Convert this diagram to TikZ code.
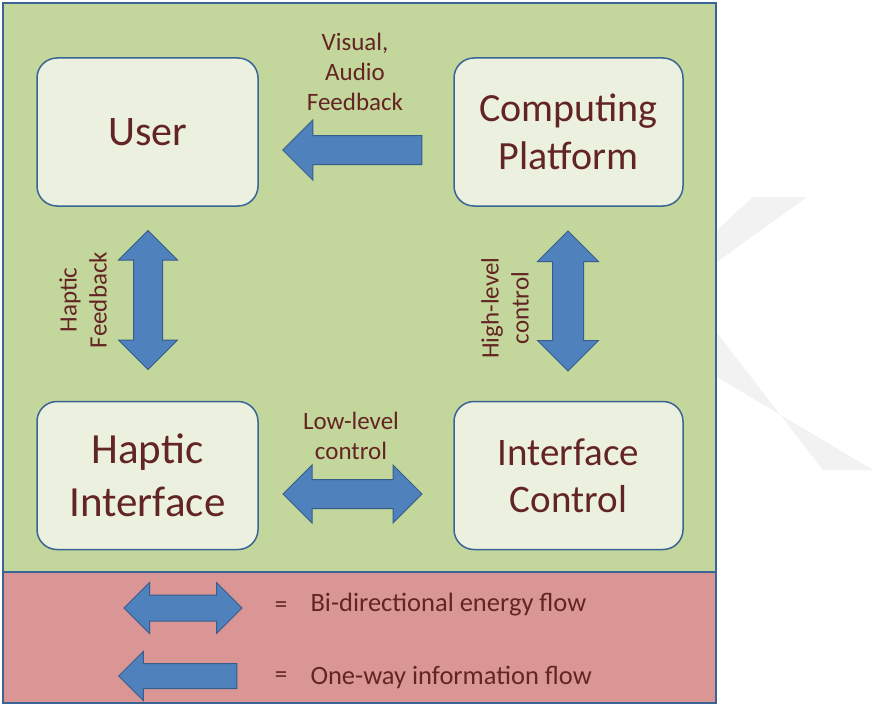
\documentclass[tikz,border=0pt]{standalone}
\usepackage{fontspec}
\setmainfont{Carlito}
\usetikzlibrary{shapes.arrows}
\definecolor{bggreen}{HTML}{C3D69B}
\definecolor{bgred}{HTML}{D99694}
\definecolor{boxfill}{HTML}{EBF1DE}
\definecolor{frameline}{HTML}{3B6496}
\definecolor{arrowfill}{HTML}{4F81BD}
\definecolor{arrowline}{HTML}{385D8A}
\definecolor{txt}{HTML}{632523}
\definecolor{wmark}{HTML}{F2F2F2}
\tikzset{
	block/.style={draw=frameline, fill=boxfill, line width=1.5pt, rounded corners=20pt,
		minimum width=221pt, minimum height=148pt, text=txt, align=center},
	oneway/.style={single arrow, draw=arrowline, fill=arrowfill, line width=1pt, inner xsep=0pt},
	twoway/.style={double arrow, draw=arrowline, fill=arrowfill, line width=1pt, inner xsep=0pt},
	lbl/.style={text=txt, align=center, font=\fontsize{25}{30}\selectfont},
	keylbl/.style={text=txt, anchor=west, font=\fontsize{26.5}{30}\selectfont}
}
\begin{document}
\begin{tikzpicture}[x=1pt, y=-1pt]
		\useasboundingbox (0,0) rectangle (874,706);
		% watermark
		\fill[wmark] (717,230) -- (753,197) -- (807,197) -- (717,262) -- cycle;
		\fill[wmark] (717,333) -- (823,470) -- (873,470) -- (717,377) -- cycle;
		% background
		\fill[bggreen] (3,3) rectangle (716,572);
		\fill[bgred] (3,572) rectangle (716,703);
		\draw[frameline, line width=2pt] (3,3) rectangle (716,703);
		\draw[frameline, line width=2pt] (3,572) -- (716,572);
		% blocks
		\node[block, font=\fontsize{42}{50}\selectfont] (user) at (147.5,132) {User};
		\node[block, minimum width=229pt, font=\fontsize{40}{48}\selectfont] (platform) at (568.5,132) {Computing\\Platform};
		\node[block, font=\fontsize{43}{53}\selectfont] (haptic) at (147.5,475.5) {Haptic\\Interface};
		\node[block, minimum width=229pt, font=\fontsize{39}{47}\selectfont] (ictrl) at (568.5,475.5) {Interface\\Control};
		% flows
		\node[oneway, rotate=180, minimum height=139pt, inner ysep=14pt, single arrow head extend=15.5pt] (av) at (359.5,150) {};
		\node[twoway, rotate=90, minimum height=139pt, inner ysep=14pt, double arrow head extend=15pt] (hf) at (148,300) {};
		\node[twoway, rotate=90, minimum height=140pt, inner ysep=15pt, double arrow head extend=15pt] (hl) at (568,301) {};
		\node[twoway, minimum height=139pt, inner ysep=14pt, double arrow head extend=14.5pt] (ll) at (352.5,494) {};
		\node[lbl] (avtext) at (355,72) {Visual,\\Audio\\Feedback};
		\node[lbl, rotate=90] (hftext) at (83,300) {Haptic\\Feedback};
		\node[lbl, rotate=90] (hltext) at (505,308) {High-level\\control};
		\node[lbl] (lltext) at (351,436) {Low-level\\control};
		% legend
		\node[twoway, minimum height=118pt, inner ysep=12.5pt, double arrow head extend=12.5pt] (keytwo) at (183,608) {};
		\node[oneway, rotate=180, minimum height=118pt, inner ysep=12pt, single arrow head extend=12pt] (keyone) at (184,676) {};
		\node[lbl] (eqtwo) at (281,607) {=};
		\node[lbl] (eqone) at (281,677) {=};
		\node[keylbl] (keytwotext) at (307,605) {Bi-directional energy flow};
		\node[keylbl] (keyonetext) at (307,677) {One-way information flow};
\end{tikzpicture}
\end{document}
